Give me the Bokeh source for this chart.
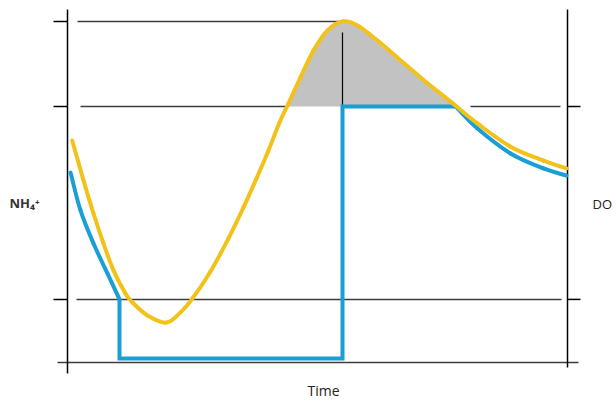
import numpy as np
from bokeh.plotting import figure
from bokeh.embed import file_html
from bokeh.resources import INLINE
from bokeh.core.properties import value

# ---- data (time in % of cycle, levels in % of max NH4) ----
nh4_t = [0.94, 3.2, 5.2, 7.2, 9.2, 11.6, 13.0, 16.0, 19.8, 22.6, 25.0, 28.6, 32.2, 35.2,
         37.8, 40.2, 42.4, 44.2, 46.6, 49.2, 52.0, 55.0, 58.0, 62.0, 66.0, 70.6,
         77.2, 82.0, 88.6, 95.2, 99.8]
nh4_v = [65.1, 53.4, 43.7, 34.9, 27.0, 20.2, 17.6, 13.8, 11.7, 14.7, 18.8, 26.7, 36.4, 45.5,
         54.0, 62.2, 70.4, 76.0, 83.6, 91.5, 97.4, 100.0, 98.8, 94.4, 89.4, 83.6,
         75.8, 70.1, 63.3, 59.2, 56.9]

# DO: falling curve, step cycle, decaying curve
do_fall_t = [0.6, 2.6, 5.2, 8.0, 10.4]
do_fall_v = [55.7, 44.6, 34.9, 26.1, 18.5]
do_step_t = [10.4, 10.4, 55.0, 55.0, 77.6]
do_step_v = [18.5, 1.2, 1.2, 75.1, 75.1]
do_decay_t = [77.6, 82.0, 88.6, 95.2, 99.8]
do_decay_v = [75.1, 68.6, 61.3, 56.9, 54.8]

level_max = 100.0      # NH4 peak
level_set = 75.1       # DO set point / NH4 high threshold
level_low = 18.5       # NH4 low threshold
level_zero = 0.0
peak_t = 55.0

# reference line extents (t start, t end)
ref_x0 = [2.0, 2.6, 80.6, 1.8, -2.0]
ref_x1 = [55.0, 44.0, 98.6, 98.8, 102.2]
ref_y = [level_max, level_set, level_set, level_low, level_zero]

left_ticks = [level_max, level_set, level_low]
right_ticks = [level_set, level_low]

YELLOW = "#F2C21B"
BLUE = "#1A9ED6"
GRAY = "#C2C2C2"
LINE = "#3C3C3C"


def smooth_segments(xs, ys):
    """Catmull-Rom control points so the curve passes through every read point."""
    x = np.asarray(xs, float)
    y = np.asarray(ys, float)
    n = len(x)
    xp = np.concatenate([[2 * x[0] - x[1]], x, [2 * x[-1] - x[-2]]])
    yp = np.concatenate([[2 * y[0] - y[1]], y, [2 * y[-1] - y[-2]]])
    i = np.arange(1, n)
    return dict(
        x0=xp[i], y0=yp[i], x1=xp[i + 1], y1=yp[i + 1],
        cx0=xp[i] + (xp[i + 1] - xp[i - 1]) / 6.0, cy0=yp[i] + (yp[i + 1] - yp[i - 1]) / 6.0,
        cx1=xp[i + 1] - (xp[i + 2] - xp[i]) / 6.0, cy1=yp[i + 1] - (yp[i + 2] - yp[i]) / 6.0,
    )


p = figure(width=616, height=401, x_range=(-13.4, 109.8), y_range=(-11.44, 106.16),
           output_backend="svg", toolbar_location=None,
           x_axis_location=None, y_axis_location=None, min_border=0)
p.grid.visible = False
p.outline_line_color = None
p.background_fill_color = "white"

# horizontal reference lines
p.segment(x0=ref_x0, y0=ref_y, x1=ref_x1, y1=ref_y, line_color=LINE, line_width=1.5)

# axes (drawn manually)
p.segment(x0=[0, 100], y0=[103.5, 103.5], x1=[0, 100], y1=[-3.2, -1.5],
          line_color="black", line_width=1.5)
p.segment(x0=[-2.8] * len(left_ticks), y0=left_ticks, x1=[0] * len(left_ticks), y1=left_ticks,
          line_color="black", line_width=1.5)
p.segment(x0=[100] * len(right_ticks), y0=right_ticks, x1=[102.6] * len(right_ticks), y1=right_ticks,
          line_color="black", line_width=1.5)

# gray area where NH4 exceeds set point
t_arr = np.array(nh4_t)
v_arr = np.array(nh4_v)
mask = (t_arr >= 44.0) & (t_arr <= 77.6)
ft = np.concatenate([[43.9], t_arr[mask], [77.6]])
fv = np.concatenate([[level_set], np.maximum(v_arr[mask], level_set), [level_set]])
p.varea(x=ft, y1=[level_set] * len(ft), y2=fv, fill_color=GRAY)

# peak marker
p.segment(x0=[peak_t], y0=[96.8], x1=[peak_t], y1=[level_set], line_color="black", line_width=1.2)

# DO line
p.bezier(**smooth_segments(do_fall_t, do_fall_v), line_color=BLUE, line_width=4, line_cap="round")
p.line(do_step_t, do_step_v, line_color=BLUE, line_width=4, line_join="miter")
p.bezier(**smooth_segments(do_decay_t, do_decay_v), line_color=BLUE, line_width=4, line_cap="round")

# NH4 line
p.bezier(**smooth_segments(nh4_t, nh4_v), line_color=YELLOW, line_width=4, line_cap="round")

# labels
p.text(x=[-11.6], y=[46.9], text=["NH₄⁺"], text_font=value("Open Sans"), text_font_size="13px",
       text_color="#333333", text_baseline="middle", text_align="left", text_font_style="bold")
p.text(x=[105.0], y=[46.5], text=["DO"], text_font=value("Open Sans"), text_font_size="13px",
       text_color="#222222", text_baseline="middle", text_align="left")
p.text(x=[51.2], y=[-8.2], text=["Time"], text_font=value("Open Sans"), text_font_size="14px",
       text_color="#222222", text_baseline="middle", text_align="center")

open("out.html", "w").write(file_html(p, INLINE))
